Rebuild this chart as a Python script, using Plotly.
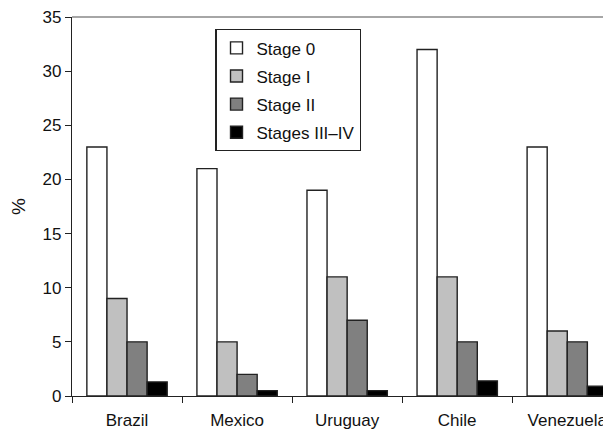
import plotly.graph_objects as go

countries = ["Brazil", "Mexico", "Uruguay", "Chile", "Venezuela"]
stage0 = [23, 21, 19, 32, 23]
stage1 = [9, 5, 11, 11, 6]
stage2 = [5, 2, 7, 5, 5]
stage34 = [1.3, 0.5, 0.5, 1.4, 0.9]
series_names = ["Stage 0", "Stage I", "Stage II", "Stages III\u2013IV"]
colors = ["#ffffff", "#c0c0c0", "#808080", "#000000"]

fig = go.Figure()
for i, (name, vals, col) in enumerate(zip(series_names, [stage0, stage1, stage2, stage34], colors)):
    fig.add_trace(go.Bar(x=countries, y=vals, name=name, legendgroup=f"g{i}",
                         marker=dict(color=col, line=dict(color="#222222", width=1.4))))

# page body has an 8px margin, so margins are offset accordingly
fig.update_layout(
    width=611, height=430,
    margin=dict(l=64, r=0, t=9, b=42),
    paper_bgcolor="white", plot_bgcolor="white",
    barmode="group", bargap=0.27, bargroupgap=0,
    font=dict(family="Liberation Sans, Arial, sans-serif", size=17, color="#111111"),
    legend=dict(x=0.262, y=0.968, xanchor="left", yanchor="top",
                bordercolor="#222222", borderwidth=1.2, bgcolor="white",
                font=dict(size=17), tracegroupgap=3, itemwidth=30),
    xaxis=dict(range=[-0.5, 4.47], showline=True, linecolor="#222222", linewidth=1.4,
               ticks="outside", tickson="boundaries", ticklen=6, tickcolor="#222222",
               showgrid=False, tickfont=dict(size=17), automargin=False,
               ticklabelstandoff=8, ticklabeloverflow="allow"),
    yaxis=dict(range=[0, 35], dtick=5, showline=True, linecolor="#222222", linewidth=1.4,
               ticks="outside", ticklen=6, tickcolor="#222222", showgrid=False,
               zeroline=False, tickfont=dict(size=17), automargin=False,
               ticklabeloverflow="allow",
               title=dict(text="%", font=dict(size=19), standoff=14)),
    shapes=[dict(type="line", xref="paper", yref="paper", x0=0, x1=1, y0=1, y1=1,
                 layer="above", line=dict(color="#888888", width=1.5))],
)
fig.write_html("out.html")
